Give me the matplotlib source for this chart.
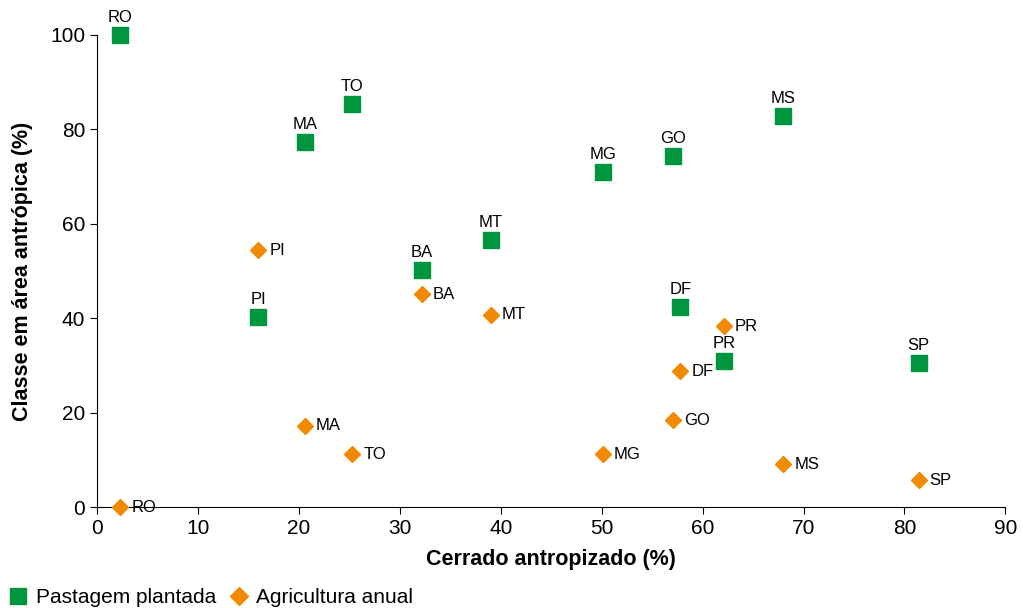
import matplotlib.pyplot as plt
from matplotlib.lines import Line2D

plt.rcParams['font.family'] = ['Liberation Sans', 'DejaVu Sans']

# Estados
estados = ['RO', 'TO', 'MA', 'MG', 'GO', 'MS', 'MT', 'BA', 'PI', 'DF', 'PR', 'SP']
# Cerrado antropizado (%)
cerrado = [2.3, 25.3, 20.6, 50.1, 57.1, 68.0, 39.0, 32.2, 16.0, 57.8, 62.1, 81.4]
# Pastagem plantada (%)
pastagem = [100.0, 85.4, 77.3, 71.0, 74.4, 82.8, 56.6, 50.2, 40.3, 42.4, 30.9, 30.5]
# Agricultura anual (%)
agricultura = [0.0, 11.2, 17.2, 11.2, 18.4, 9.1, 40.7, 45.1, 54.4, 28.8, 38.3, 5.7]

verde = '#00963F'
laranja = '#F18A00'

fig = plt.figure(figsize=(10.23, 6.08), dpi=100)
ax = fig.add_axes([0.0948, 0.166, 0.888, 0.7766])

ax.plot(cerrado, pastagem, ls='none', marker='s', ms=11, color=verde, clip_on=False, zorder=3)
ax.plot(cerrado, agricultura, ls='none', marker='D', ms=8, color=laranja, clip_on=False, zorder=3)

for e, x, y in zip(estados, cerrado, pastagem):
    ax.annotate(e, (x, y), xytext=(0, 7), textcoords='offset points',
                ha='center', va='bottom', fontsize=12)
for e, x, y in zip(estados, cerrado, agricultura):
    ax.annotate(e, (x, y), xytext=(8, 0), textcoords='offset points',
                ha='left', va='center', fontsize=12)

ax.set_xlim(0, 90)
ax.set_ylim(0, 100)
ax.set_xticks(range(0, 91, 10))
ax.set_yticks(range(0, 101, 20))
ax.spines['top'].set_visible(False)
ax.spines['right'].set_visible(False)
ax.tick_params(labelsize=15, direction='out', length=5)
ax.set_xlabel('Cerrado antropizado (%)', fontsize=15.5, fontweight='bold', labelpad=8)
ax.set_ylabel('Classe em área antrópica (%)', fontsize=15.5, fontweight='bold', labelpad=12)

handles = [Line2D([], [], ls='none', marker='s', ms=12, color=verde),
           Line2D([], [], ls='none', marker='D', ms=9, color=laranja)]
fig.legend(handles, ['Pastagem plantada', 'Agricultura anual'], loc='lower left',
           bbox_to_anchor=(-0.009, -0.03), ncol=2, frameon=False, fontsize=15,
           handlelength=0.8, handletextpad=0.45, columnspacing=0.7)

fig.savefig('out.png', dpi=100)
